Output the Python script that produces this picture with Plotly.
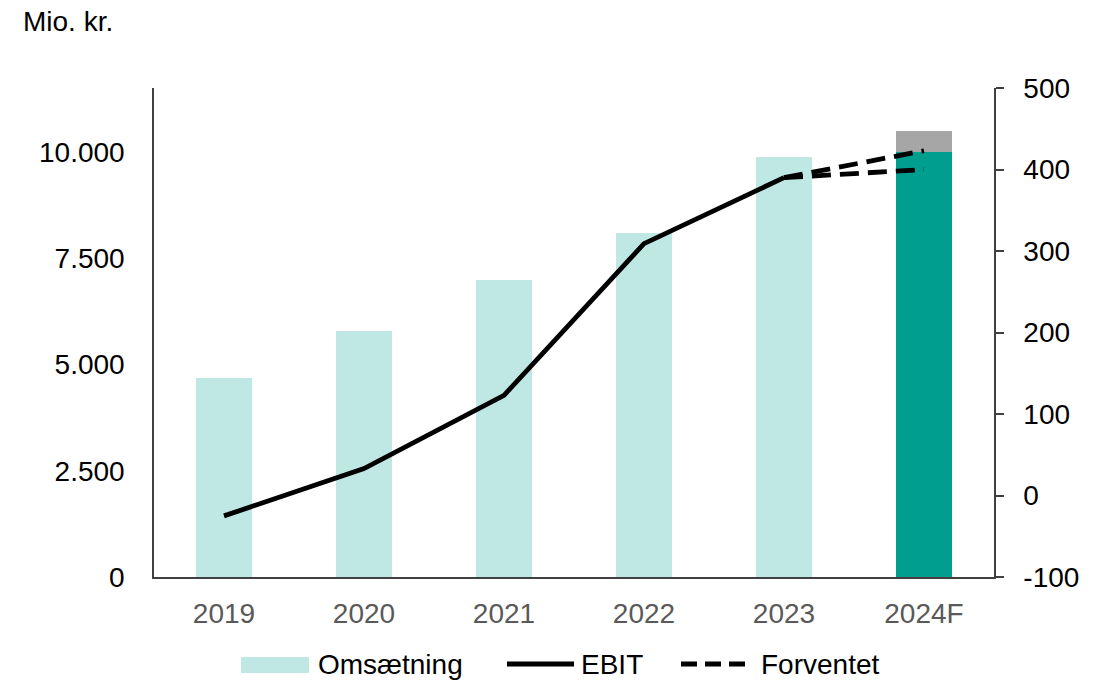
import plotly.graph_objects as go

# Categories and values (Mio. kr.)
years = ["2019", "2020", "2021", "2022", "2023", "2024F"]
omsaetning = [4680, 5790, 6990, 8090, 9880, None]
omsaetning_forecast = [None, None, None, None, None, 10000]
omsaetning_forecast_span = [None, None, None, None, None, 500]
ebit = [-25, 33, 123, 309, 390]
ebit_years = years[:5]
forventet_years = ["2023", "2024F"]
forventet_high = [390, 423]
forventet_low = [390, 400]

LIGHT_TEAL = "#BFE7E3"
DARK_TEAL = "#009E8E"
GREY = "#A6A6A6"
FONT = "Liberation Sans, Arial, sans-serif"
FS = 28
LW = 4.8
DASH = "19px,9px"

# plot area in pixels
L, R, T, B = 154, 110, 88, 103
PW, PH = 1104 - L - R, 680 - T - B


def px_x(x):
    return (x - L) / PW


def px_y(y):
    return (680 - B - y) / PH


fig = go.Figure()

fig.add_trace(go.Bar(
    x=years, y=omsaetning, name="Omsætning",
    marker=dict(color=LIGHT_TEAL, line=dict(width=0)),
    width=0.4, yaxis="y",
))
fig.add_trace(go.Bar(
    x=years, y=omsaetning_forecast, name="Omsætning 2024F",
    marker=dict(color=DARK_TEAL, line=dict(width=0)),
    width=0.4, yaxis="y",
))
fig.add_trace(go.Bar(
    x=years, y=omsaetning_forecast_span, name="Interval",
    marker=dict(color=GREY, line=dict(width=0)),
    width=0.4, yaxis="y",
))
fig.add_trace(go.Scatter(
    x=ebit_years, y=ebit, name="EBIT", mode="lines",
    line=dict(color="black", width=LW), yaxis="y2",
))
fig.add_trace(go.Scatter(
    x=forventet_years, y=forventet_high, name="Forventet", mode="lines",
    line=dict(color="black", width=LW, dash=DASH), yaxis="y2",
))
fig.add_trace(go.Scatter(
    x=forventet_years, y=forventet_low, name="Forventet (lav)", mode="lines",
    line=dict(color="black", width=LW, dash=DASH), yaxis="y2",
))

# Legend row below the chart
legend_y = 664
shapes = [
    dict(type="rect", xref="paper", yref="paper",
         x0=px_x(241), x1=px_x(309), y0=px_y(673), y1=px_y(657),
         fillcolor=LIGHT_TEAL, line=dict(width=0)),
    dict(type="line", xref="paper", yref="paper",
         x0=px_x(507), x1=px_x(574), y0=px_y(legend_y), y1=px_y(legend_y),
         line=dict(color="black", width=LW)),
    dict(type="line", xref="paper", yref="paper",
         x0=px_x(681), x1=px_x(751), y0=px_y(legend_y), y1=px_y(legend_y),
         line=dict(color="black", width=LW, dash="16px,8px")),
]
legend_labels = [("Omsætning", 316), ("EBIT", 579), ("Forventet", 759)]
annotations = [
    dict(text=txt, xref="paper", yref="paper", x=px_x(x0), y=px_y(legend_y),
         xanchor="left", yanchor="middle", showarrow=False,
         font=dict(size=FS, color="black"))
    for txt, x0 in legend_labels
]
annotations.append(dict(
    text="Mio. kr.", xref="paper", yref="paper",
    x=px_x(21), y=px_y(22), xanchor="left", yanchor="middle",
    showarrow=False, font=dict(size=FS, color="black"),
))

fig.update_layout(
    width=1104, height=680,
    margin=dict(l=L, r=R, t=T, b=B, autoexpand=False),
    paper_bgcolor="white", plot_bgcolor="white",
    barmode="stack",
    separators=",.",
    font=dict(family=FONT, size=FS, color="black"),
    showlegend=False,
    xaxis=dict(
        type="category", categoryorder="array", categoryarray=years,
        range=[-0.5, 5.5],
        showline=True, linecolor="#404040", linewidth=1.5,
        ticks="", showgrid=False, zeroline=False,
        tickfont=dict(size=FS, color="#595959"),
        ticklabelstandoff=11,
    ),
    yaxis=dict(
        range=[0, 11506],
        tickvals=[0, 2500, 5000, 7500, 10000],
        tickformat=",d",
        showline=True, linecolor="#404040", linewidth=1.5,
        ticks="", showgrid=False, zeroline=False,
        tickfont=dict(size=FS, color="black"),
        ticklabelstandoff=22,
    ),
    yaxis2=dict(
        overlaying="y", side="right",
        range=[-100, 500],
        tickvals=[-100, 0, 100, 200, 300, 400, 500],
        ticktext=["-100", "0", "100", "200", "300", "400", "500"],
        showline=True, linecolor="#404040", linewidth=1.5,
        ticks="outside", ticklen=8, tickwidth=1.5, tickcolor="#404040",
        showgrid=False, zeroline=False,
        tickfont=dict(size=FS, color="black"),
        ticklabelstandoff=14,
    ),
    shapes=shapes,
    annotations=annotations,
)

fig.write_html("out.html")
